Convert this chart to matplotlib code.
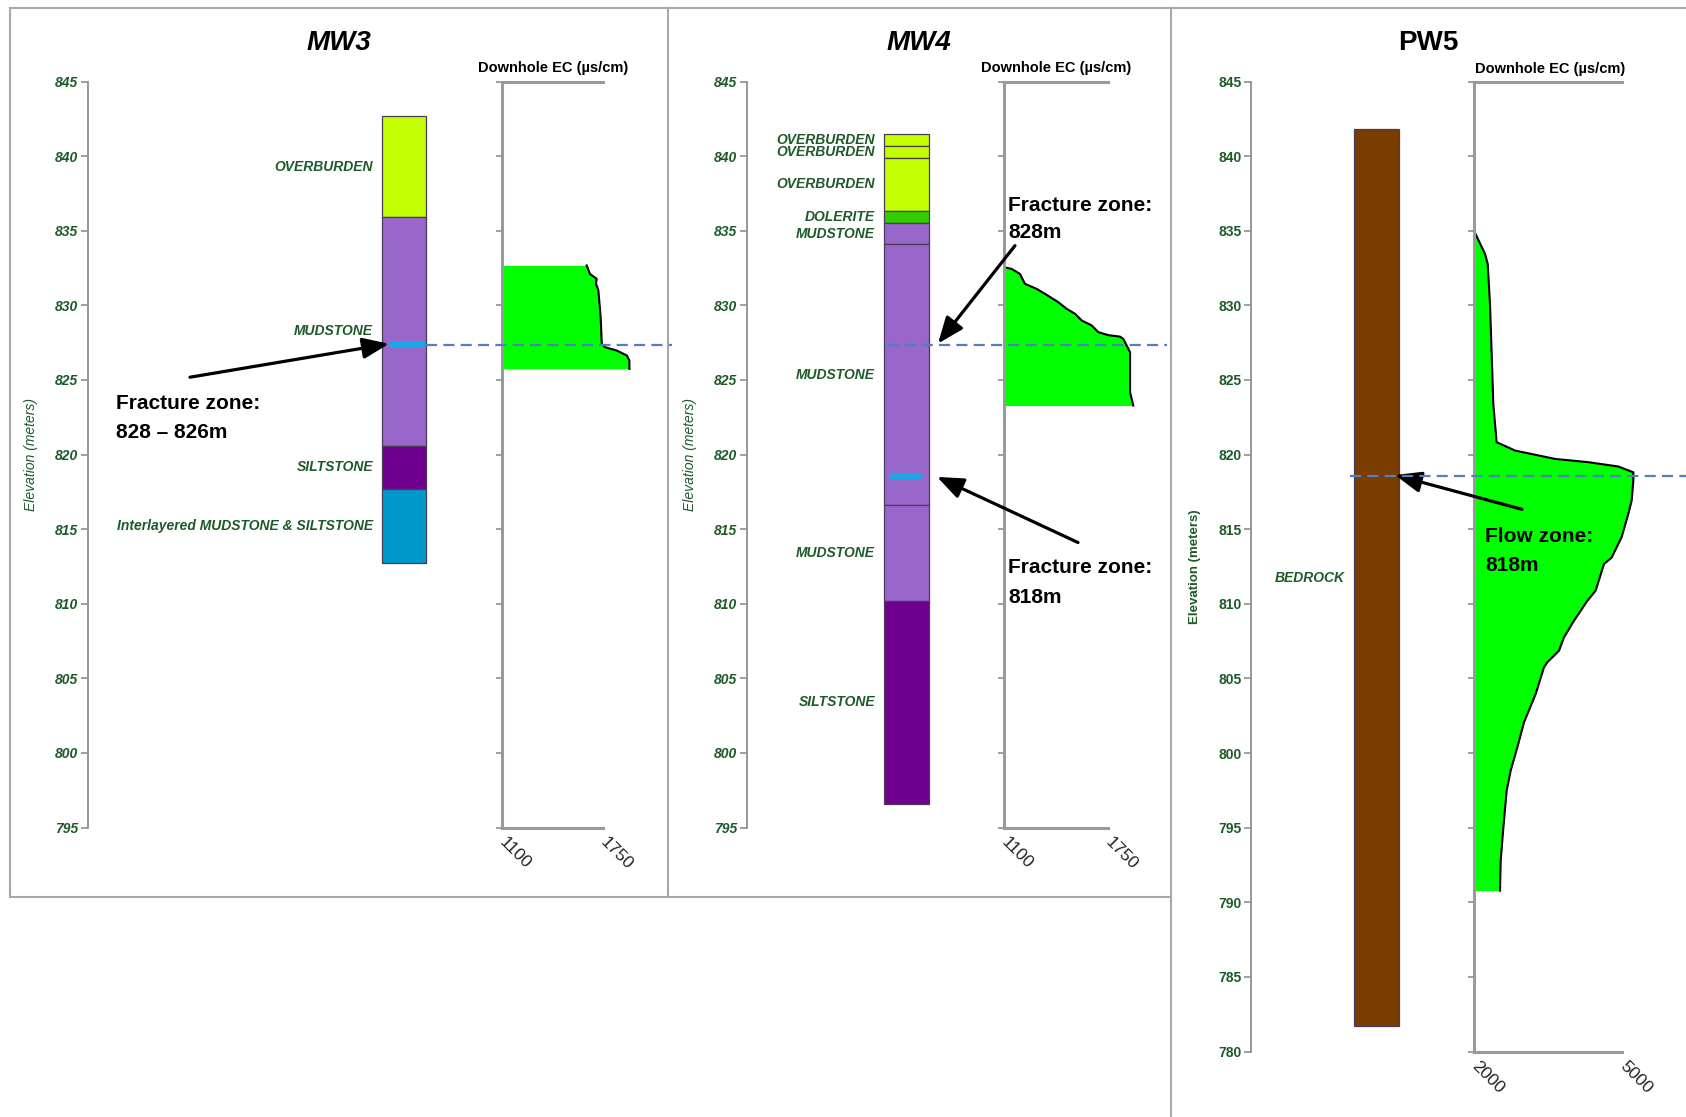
import matplotlib
matplotlib.use("Agg")
import matplotlib.pyplot as plt
from matplotlib.lines import Line2D

# ---------------------------------------------------------------- data
ELEV_TICKS_MW = [795, 800, 805, 810, 815, 820, 825, 830, 835, 840, 845]
ELEV_TICKS_PW = [780, 785, 790, 795, 800, 805, 810, 815, 820, 825, 830, 835, 840, 845]

# MW3 lithology
MW3_TOPS = [842.7, 835.9, 820.6, 817.7]
MW3_BOTS = [835.9, 820.6, 817.7, 812.7]
MW3_UNITS = ["OVERBURDEN", "MUDSTONE", "SILTSTONE", "Interlayered MUDSTONE & SILTSTONE"]
MW3_KIND = ["overburden", "mudstone", "siltstone", "interlayered"]
MW3_FRACTURE = 827.35
MW3_EC_ELEV = [832.67, 832.1, 831.78, 831.44, 831.0, 829.2, 827.42, 827.19,
               826.97, 826.64, 826.3, 825.74]
MW3_EC_VALUE = [1645, 1666, 1709, 1705, 1720, 1735, 1742, 1763, 1838, 1903, 1920, 1920]
MW3_EC_TICKS = [1100, 1750]

# MW4 lithology
MW4_TOPS = [841.5, 840.7, 839.9, 836.3, 835.5, 834.1, 816.6, 810.2]
MW4_BOTS = [840.7, 839.9, 836.3, 835.5, 834.1, 816.6, 810.2, 796.6]
MW4_UNITS = ["OVERBURDEN", "OVERBURDEN", "OVERBURDEN", "DOLERITE",
             "MUDSTONE", "MUDSTONE", "MUDSTONE", "SILTSTONE"]
MW4_KIND = ["overburden", "overburden", "overburden", "dolerite",
            "mudstone", "mudstone", "mudstone", "siltstone"]
MW4_FRACTURE_UPPER = 827.35
MW4_FRACTURE_LOWER = 818.55
MW4_EC_ELEV = [832.55, 832.44, 832.1, 831.44, 831.1, 830.77, 830.21, 829.76, 829.43,
               828.98, 828.65, 828.2, 828.0, 827.9, 827.74, 827.3, 826.85, 824.17, 823.28]
MW4_EC_VALUE = [1102, 1148, 1200, 1231, 1304, 1356, 1439, 1492, 1544, 1586, 1648,
                1689, 1752, 1825, 1846, 1867, 1888, 1888, 1908]
MW4_EC_TICKS = [1100, 1750]

# PW5 lithology
PW5_TOPS = [841.8]
PW5_BOTS = [781.7]
PW5_UNITS = ["BEDROCK"]
PW5_KIND = ["bedrock"]
PW5_FLOW = 818.55
PW5_EC_ELEV = [835.0, 833.45, 832.78, 830.1, 826.75, 823.4, 820.83, 820.27, 819.71,
               819.49, 819.2, 818.81, 818.26, 816.92, 816.03, 814.47, 813.1, 812.67,
               810.88, 810.2, 808.87, 807.75, 806.86, 806.08, 805.75, 803.96, 802.06,
               800.38, 798.82, 797.48, 795.0, 792.79, 790.78]
PW5_EC_VALUE = [2000, 2223, 2278, 2324, 2358, 2391, 2459, 2831, 3642, 4317, 4926, 5230,
                5230, 5196, 5128, 4993, 4791, 4635, 4466, 4297, 4027, 3824, 3723, 3486,
                3419, 3250, 3014, 2878, 2743, 2662, 2595, 2541, 2527]
PW5_EC_TICKS = [2000, 5000]

# ---------------------------------------------------------------- style
COLORS = {
    "overburden": "#c2ff00",
    "mudstone": "#9966cc",
    "siltstone": "#6f0090",
    "interlayered": "#0099cc",
    "dolerite": "#33cc00",
    "bedrock": "#7a3d00",
}
GREEN_TXT = "#1d5a28"
SPINE = "#9a9a9a"
DASH = "#4f81bd"
MARK = "#19a7e6"
FILL = "#00ff00"

W, H, DPI = 1686, 1117, 100
fig = plt.figure(figsize=(W / DPI, H / DPI), dpi=DPI)
fig.patch.set_facecolor("white")

SANS = ["Liberation Sans", "DejaVu Sans"]
plt.rcParams["font.family"] = SANS


def rect(x0, y0, x1, y1):
    return [x0 / W, 1 - y1 / H, (x1 - x0) / W, (y1 - y0) / H]


def fx(x):
    return x / W


def fy(y):
    return 1 - y / H


def geology_axes(x0, x1, ybot, ymin, ticks, italic):
    ax = fig.add_axes(rect(x0, 81.5, x1, ybot), zorder=3)
    ax.patch.set_alpha(0)
    ax.set_xlim(0, x1 - x0)
    ax.set_ylim(ymin, 845)
    for s in ["top", "right", "bottom"]:
        ax.spines[s].set_visible(False)
    ax.spines["left"].set_color("#8f8f8f")
    ax.spines["left"].set_linewidth(1.3)
    ax.set_xticks([])
    ax.set_yticks(ticks)
    ax.tick_params(axis="y", direction="out", length=5, width=1.2, color="#8f8f8f", pad=2)
    for t in ax.get_yticklabels():
        t.set_fontsize(10)
        t.set_fontweight("bold")
        t.set_color(GREEN_TXT)
        t.set_fontstyle("italic" if italic else "normal")
    ax.set_ylabel("Elevation (meters)", fontsize=10 if italic else 9.5,
                  fontstyle="italic" if italic else "normal",
                  fontweight="normal" if italic else "bold", color=GREEN_TXT)
    ax.yaxis.set_label_coords(-50 / (x1 - x0), 0.5)
    return ax


def column(ax, left, right, tops, bots, units, kinds):
    for top, bot, name, kind in zip(tops, bots, units, kinds):
        ax.bar((left + right) / 2, top - bot, bottom=bot, width=right - left,
               color=COLORS[kind], edgecolor="#4a3a55", linewidth=0.9, zorder=2)
        ax.text(left - 9, (top + bot) / 2, name, ha="right", va="center",
                fontsize=10, fontweight="bold", fontstyle="italic", color=GREEN_TXT)


def ec_axes(x0, x1, ybot, ymin, xlim, ticks, elev, vals):
    ax = fig.add_axes(rect(x0, 81.5, x1, ybot), zorder=1)
    ax.patch.set_alpha(0)
    ax.set_xlim(*xlim)
    ax.set_ylim(ymin, 845)
    ax.spines["right"].set_visible(False)
    for s in ["left", "bottom", "top"]:
        ax.spines[s].set_color(SPINE)
        ax.spines[s].set_linewidth(2.2)
    ax.set_yticks(range(ymin, 846, 5))
    ax.set_yticklabels([])
    ax.tick_params(axis="y", direction="out", length=4, width=1.2, color="#8f8f8f")
    ax.set_xticks(ticks)
    ax.set_xticklabels([str(t) for t in ticks], rotation=-45, ha="left", va="center",
                       rotation_mode="anchor", fontsize=12.5, color="#222222")
    ax.tick_params(axis="x", length=0, pad=9)
    ax.fill_betweenx(elev, xlim[0], vals, color=FILL, linewidth=0, clip_on=False, zorder=1)
    ax.plot(vals, elev, color="black", linewidth=1.5, clip_on=False, zorder=2)
    return ax


def arrow(ax, head, tail):
    ax.annotate("", xy=head, xytext=tail,
                arrowprops=dict(arrowstyle="-|>,head_length=0.8,head_width=0.32",
                                color="black", lw=2.3, mutation_scale=20,
                                shrinkA=0, shrinkB=0),
                annotation_clip=False)


def note(ax, x, y1, y2, l1, l2):
    ax.text(x, y1, l1, ha="left", va="center", fontsize=15, fontweight="bold",
            color="black", zorder=6)
    ax.text(x, y2, l2, ha="left", va="center", fontsize=15, fontweight="bold",
            color="black", zorder=6)


def dashed(ax, x0, x1, y):
    ax.plot([x0, x1], [y, y], color=DASH, linewidth=1.6, linestyle=(0, (5, 2.8)),
            clip_on=False, zorder=5)


# ---------------------------------------------------------------- panel frames
frame = dict(color="#a8a8a8", linewidth=1.5)
fig.add_artist(Line2D([fx(9.5), fx(1686)], [fy(8), fy(8)], **frame))
fig.add_artist(Line2D([fx(9.5), fx(9.5)], [fy(8), fy(897)], **frame))
fig.add_artist(Line2D([fx(9.5), fx(1171)], [fy(897), fy(897)], **frame))
fig.add_artist(Line2D([fx(668), fx(668)], [fy(8), fy(897)], **frame))
fig.add_artist(Line2D([fx(1171), fx(1171)], [fy(8), fy(1117)], **frame))

# ---------------------------------------------------------------- MW3
g3 = geology_axes(88, 668, 827.5, 795, ELEV_TICKS_MW, True)
column(g3, 294, 338, MW3_TOPS, MW3_BOTS, MW3_UNITS, MW3_KIND)
g3.bar(319.5, 0.38, bottom=MW3_FRACTURE - 0.19, width=35, color=MARK, zorder=4)
dashed(g3, 338, 584, MW3_FRACTURE)
ec_axes(502, 603, 827.5, 795, (1100, 1750), MW3_EC_TICKS, MW3_EC_ELEV, MW3_EC_VALUE)
arrow(g3, (301, 827.42), (102, 825.18))
note(g3, 28, 823.4, 821.5, "Fracture zone:", "828 \u2013 826m")
fig.text(fx(339), fy(43), "MW3", ha="center", va="center", fontsize=20,
         fontweight="bold", fontstyle="italic")
fig.text(fx(553), fy(68), "Downhole EC (\u00b5s/cm)", ha="center", va="center",
         fontsize=10.5, fontweight="bold")

# ---------------------------------------------------------------- MW4
g4 = geology_axes(747, 1171, 827.5, 795, ELEV_TICKS_MW, True)
column(g4, 137, 182, MW4_TOPS, MW4_BOTS, MW4_UNITS, MW4_KIND)
g4.bar(158, 0.45, bottom=MW4_FRACTURE_LOWER - 0.22, width=32, color=MARK, zorder=4)
dashed(g4, 140, 420, MW4_FRACTURE_UPPER)
ec_axes(1004, 1108, 827.5, 795, (1100, 1750), MW4_EC_TICKS, MW4_EC_ELEV, MW4_EC_VALUE)
arrow(g4, (191, 827.44), (268, 834.0))
note(g4, 261, 836.7, 834.9, "Fracture zone:", "828m")
arrow(g4, (190, 818.5), (331, 814.1))
note(g4, 261, 812.4, 810.4, "Fracture zone:", "818m")
fig.text(fx(919), fy(43), "MW4", ha="center", va="center", fontsize=20,
         fontweight="bold", fontstyle="italic")
fig.text(fx(1056), fy(68), "Downhole EC (\u00b5s/cm)", ha="center", va="center",
         fontsize=10.5, fontweight="bold")

# ---------------------------------------------------------------- PW5
g5 = geology_axes(1251, 1686, 1051.5, 780, ELEV_TICKS_PW, False)
column(g5, 103, 148, PW5_TOPS, PW5_BOTS, PW5_UNITS, PW5_KIND)
dashed(g5, 99, 435, PW5_FLOW)
ec_axes(1474, 1622, 1051.5, 780, (2000, 5000), PW5_EC_TICKS, PW5_EC_ELEV, PW5_EC_VALUE)
arrow(g5, (144, 818.63), (271, 816.33))
note(g5, 234, 814.5, 812.6, "Flow zone:", "818m")
fig.text(fx(1428), fy(43), "PW5", ha="center", va="center", fontsize=20,
         fontweight="bold")
fig.text(fx(1550), fy(69), "Downhole EC (\u00b5s/cm)", ha="center", va="center",
         fontsize=10.5, fontweight="bold")

fig.savefig("out.png", dpi=DPI, facecolor="white")
